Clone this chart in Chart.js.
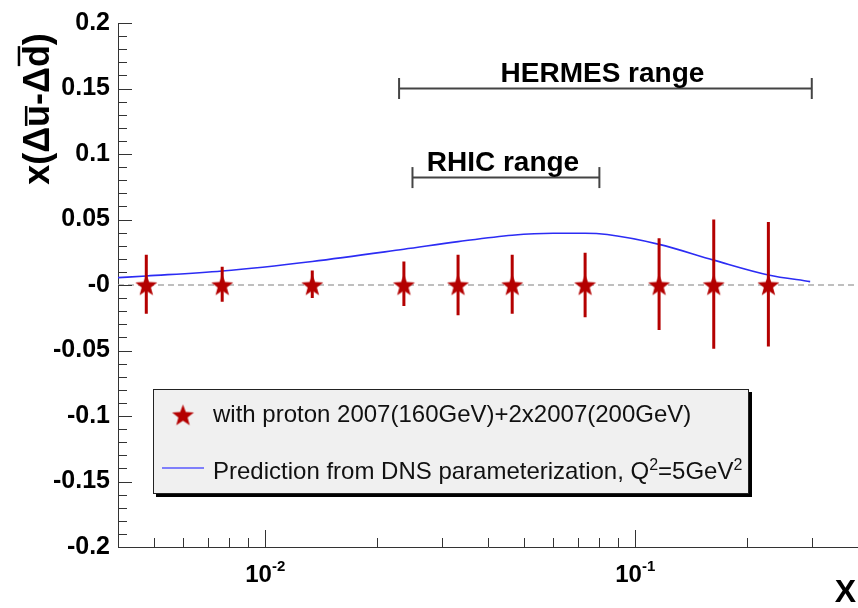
<!DOCTYPE html>
<html>
<head>
<meta charset="utf-8">
<script src="https://cdn.jsdelivr.net/npm/chart.js@4/dist/chart.umd.min.js"></script>
<style>
  html, body { margin: 0; padding: 0; background: #fff; }
  #wrap { width: 858px; height: 608px; }
</style>
</head>
<body>
<div id="wrap"><canvas id="chart"></canvas></div>
<script>
// measured points (x, value, asymmetric errors)
const pointX = [0.00477, 0.00765, 0.0134, 0.0237, 0.0332, 0.0465, 0.0732, 0.116, 0.163, 0.229];
const pointY = [0, 0, 0, 0, 0, 0, 0, 0, 0, 0];
const errUp = [0.023, 0.014, 0.011, 0.018, 0.023, 0.023, 0.0247, 0.0357, 0.050, 0.048];
const errDown = [0.022, 0.0128, 0.010, 0.016, 0.023, 0.022, 0.0247, 0.0344, 0.0487, 0.047];

// DNS prediction curve
const curveX = [0.004, 0.00477, 0.00765, 0.0134, 0.0237, 0.0332, 0.0465, 0.060, 0.0732, 0.084, 0.116, 0.163, 0.229, 0.297];
const curveY = [0.0056, 0.0069, 0.0107, 0.018, 0.0273, 0.0331, 0.038, 0.0395, 0.0395, 0.0385, 0.031, 0.019, 0.0077, 0.0026];

// kinematic ranges drawn above the data
const rangeNames = ["HERMES range", "RHIC range"];
const rangeLow = [0.023, 0.025];
const rangeHigh = [0.3, 0.08];
const rangeLevel = [0.15, 0.082];

// axis labelling
const xLabelValues = [0.01, 0.1];
const xLabelExps = ["-2", "-1"];
const legendPoints = "with proton 2007(160GeV)+2x2007(200GeV)";
const legendCurve = ["Prediction from DNS parameterization, Q", "2", "=5GeV", "2"];

const fontFamily = "'Liberation Sans', Arial, Helvetica, sans-serif";
const starRed = "#b40000";
const curveBlue = "#2c2cf4";
const rangeGrey = "#444444";

function makeStar(r, color) {
  const s = Math.ceil(r * 2 + 2);
  const c = document.createElement("canvas");
  c.width = s;
  c.height = s;
  const g = c.getContext("2d");
  g.fillStyle = color;
  g.beginPath();
  for (let i = 0; i < 10; i++) {
    const rad = i % 2 === 0 ? r : r * 0.42;
    const a = -Math.PI / 2 + (i * Math.PI) / 5;
    g.lineTo(s / 2 + rad * Math.cos(a), s / 2 + 1 + rad * Math.sin(a));
  }
  g.closePath();
  g.fill();
  return c;
}
const star = makeStar(11.5, starRed);

// draws a list of [text, font, raise] pieces one after another
function drawRuns(ctx, x, y, runs) {
  for (const [t, font, dy] of runs) {
    ctx.font = font;
    ctx.fillText(t, x, y - dy);
    x += ctx.measureText(t).width;
  }
  return x;
}

const errorBars = {
  id: "errorBars",
  beforeDatasetDraw(chart, args) {
    if (chart.data.datasets[args.index].label !== "points") return;
    const { ctx, scales: { x, y } } = chart;
    ctx.save();
    ctx.strokeStyle = starRed;
    ctx.lineWidth = 3;
    ctx.beginPath();
    pointX.forEach((v, i) => {
      const px = x.getPixelForValue(v);
      ctx.moveTo(px, y.getPixelForValue(pointY[i] + errUp[i]));
      ctx.lineTo(px, y.getPixelForValue(pointY[i] - errDown[i]));
    });
    ctx.stroke();
    ctx.restore();
  },
};

const decor = {
  id: "decor",
  afterDraw(chart) {
    const { ctx, chartArea: a, scales: { x, y } } = chart;
    ctx.save();

    // ROOT-style ticks pointing into the frame
    ctx.strokeStyle = "#333";
    ctx.lineWidth = 1;
    ctx.beginPath();
    for (let i = -20; i <= 20; i++) {
      const py = Math.round(y.getPixelForValue(i / 100)) + 0.5;
      const len = i % 5 === 0 ? 14 : 9;
      ctx.moveTo(a.left, py);
      ctx.lineTo(a.left + len, py);
    }
    for (let d = -3; d <= -1; d++) {
      for (let m = 1; m <= 9; m++) {
        const v = m * Math.pow(10, d);
        if (v <= x.min * 1.001 || v >= x.max * 0.999) continue;
        const px = Math.round(x.getPixelForValue(v)) + 0.5;
        const len = m === 1 ? 17 : 9;
        ctx.moveTo(px, a.bottom);
        ctx.lineTo(px, a.bottom - len);
      }
    }
    ctx.stroke();

    ctx.fillStyle = "#000";
    ctx.textBaseline = "alphabetic";
    ctx.textAlign = "left";

    // decade labels 10^-n
    xLabelValues.forEach((v, i) => {
      const px = x.getPixelForValue(v);
      ctx.font = "bold 24px " + fontFamily;
      const w1 = ctx.measureText("10").width;
      ctx.font = "bold 15px " + fontFamily;
      const w2 = ctx.measureText(xLabelExps[i]).width;
      const x0 = px - (w1 + w2) / 2;
      drawRuns(ctx, x0, a.bottom + 35, [
        ["10", "bold 24px " + fontFamily, 0],
        [xLabelExps[i], "bold 15px " + fontFamily, 11],
      ]);
    });

    // x axis title
    ctx.font = "bold 32px " + fontFamily;
    ctx.textAlign = "right";
    ctx.fillText("X", chart.width - 2, a.bottom + 55);

    // y axis title with overlined u and d
    ctx.save();
    ctx.translate(49, 109);
    ctx.rotate(-Math.PI / 2);
    ctx.textAlign = "left";
    const fs = 36;
    ctx.font = "bold " + fs + "px " + fontFamily;
    const full = "x(\u0394u-\u0394d)";
    const cx = -ctx.measureText(full).width / 2;
    const wPre = ctx.measureText("x(\u0394").width;
    const wU = ctx.measureText("u").width;
    const wMid = ctx.measureText("-\u0394").width;
    const wD = ctx.measureText("d").width;
    ctx.fillText(full, cx, 0);
    ctx.fillRect(cx + wPre + 1, -(0.53 * fs + 5), wU - 2, 2.5);
    ctx.fillRect(cx + wPre + wU + wMid + 1, -(0.73 * fs + 5), wD - 2, 2.5);
    ctx.restore();

    // range labels
    ctx.font = "bold 28px " + fontFamily;
    ctx.textAlign = "center";
    rangeNames.forEach((name, i) => {
      const mid = (x.getPixelForValue(rangeLow[i]) + x.getPixelForValue(rangeHigh[i])) / 2;
      ctx.fillText(name, mid - 3, y.getPixelForValue(rangeLevel[i]) - 7);
    });

    // legend box with shadow
    const lx = 153, ly = 389, lw = 596, lh = 105;
    ctx.fillStyle = "#000";
    ctx.fillRect(lx + 3, ly + 3, lw, lh);
    ctx.fillStyle = "#f0f0f0";
    ctx.fillRect(lx, ly, lw, lh);
    ctx.strokeStyle = "#222";
    ctx.lineWidth = 1;
    ctx.strokeRect(lx + 0.5, ly + 0.5, lw - 1, lh - 1);

    ctx.drawImage(star, 183 - star.width / 2, 415 - star.height / 2);
    ctx.strokeStyle = "#5a5aff";
    ctx.lineWidth = 1.5;
    ctx.beginPath();
    ctx.moveTo(162, 468);
    ctx.lineTo(204, 468);
    ctx.stroke();

    ctx.fillStyle = "#111";
    ctx.textAlign = "left";
    const lf = "24px " + fontFamily;
    const sf = "16px " + fontFamily;
    drawRuns(ctx, 213, 422, [[legendPoints, lf, 0]]);
    ctx.save();
    ctx.beginPath();
    ctx.rect(lx, ly, lw - 1, lh);
    ctx.clip();
    drawRuns(ctx, 213, 479, [
      [legendCurve[0], lf, 0],
      [legendCurve[1], sf, 9],
      [legendCurve[2], lf, 0],
      [legendCurve[3], sf, 9],
    ]);
    ctx.restore();

    ctx.restore();
  },
};

const rangeSets = rangeNames.map((name, i) => ({
  label: name,
  data: [{ x: rangeLow[i], y: rangeLevel[i] }, { x: rangeHigh[i], y: rangeLevel[i] }],
  showLine: true,
  borderColor: rangeGrey,
  borderWidth: 2,
  pointStyle: "line",
  rotation: 90,
  pointRadius: 10.5,
  pointBorderColor: rangeGrey,
  pointBorderWidth: 2,
  order: 2,
}));

new Chart(document.getElementById("chart"), {
  type: "scatter",
  data: {
    datasets: [
      {
        label: "points",
        data: pointX.map((v, i) => ({ x: v, y: pointY[i] })),
        pointStyle: star,
        pointRadius: 12,
        order: 0,
      },
      {
        label: "DNS",
        data: curveX.map((v, i) => ({ x: v, y: curveY[i] })),
        showLine: true,
        cubicInterpolationMode: "monotone",
        borderColor: curveBlue,
        borderWidth: 1.6,
        pointRadius: 0,
        order: 1,
      },
      {
        label: "zero",
        data: [{ x: 0.004, y: 0 }, { x: 0.4, y: 0 }],
        showLine: true,
        borderColor: "#aaaaaa",
        borderWidth: 1.3,
        borderDash: [6, 4],
        pointRadius: 0,
        order: 3,
      },
      ...rangeSets,
    ],
  },
  options: {
    responsive: true,
    maintainAspectRatio: false,
    animation: false,
    layout: { autoPadding: false, padding: { top: 22, left: 0, right: 0, bottom: 0 } },
    plugins: { legend: { display: false }, tooltip: { enabled: false } },
    scales: {
      x: {
        type: "logarithmic",
        min: 0.004,
        max: 0.4,
        ticks: { display: false },
        grid: { drawOnChartArea: false, drawTicks: false },
        border: { color: "#333", width: 1 },
        afterFit(scale) { scale.height = 61; },
      },
      y: {
        min: -0.2,
        max: 0.2,
        ticks: {
          stepSize: 0.05,
          padding: 8,
          color: "#000",
          font: { family: fontFamily, size: 25, weight: "bold" },
          callback: (v) => (Math.abs(v) < 1e-9 ? "-0" : String(Math.round(v * 100) / 100)),
        },
        grid: { drawOnChartArea: false, drawTicks: false },
        border: { color: "#333", width: 1 },
        afterFit(scale) { scale.width = 118; },
      },
    },
  },
  plugins: [errorBars, decor],
});
</script>
</body>
</html>
